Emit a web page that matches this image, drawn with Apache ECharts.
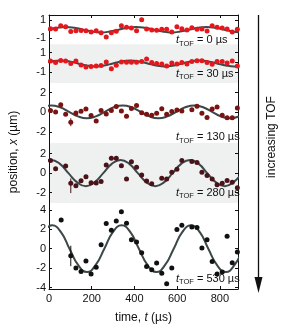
<!DOCTYPE html>
<html><head><meta charset="utf-8">
<script src="https://cdn.jsdelivr.net/npm/echarts@6/dist/echarts.min.js"></script>
<style>html,body{margin:0;padding:0;background:#fff}#c{width:284px;height:325px}</style>
</head><body><div id="c"></div>
<script>
// ---- data ----
const tofLabels = ['0', '30', '130', '280', '530'];
const xTicks = [0, 200, 400, 600, 800];

const t1 = [7,31,55,78,102,126,150,173,197,221,244,268,292,315,339,363,386,410,434,457,481,504,528,551,575,599,622,646,669,693,716,740,764,787,811,834,858,882];
const x1 = [0.05,0.03,0.37,0.27,-0.25,-0.17,-0.15,-0.17,-0.3,-0.17,-0.4,-0.85,-0.4,-0.23,0.37,0.22,0.12,-0.17,1.03,0.03,-0.1,-0.12,0.0,0.0,-0.3,0.27,0.05,-0.1,0.15,0.0,0.03,-0.2,0.37,0.22,0.12,0.03,-0.3,0.0];
const t2 = t1;
const x2 = [0.15,0.0,0.2,0.15,-0.1,0.15,-0.25,-0.45,-0.42,-0.35,-0.3,0.05,-0.65,-0.28,0.05,0.03,0.03,0.03,0.1,0.35,0.0,-0.1,-0.15,-0.35,-0.05,-0.15,0.0,-0.15,0.1,0.17,0.17,0.0,-0.17,0.1,0.1,-0.05,0.15,-0.35];
const t3 = [7,31,55,78,102,126,150,173,197,221,244,268,292,315,339,363,386,410,434,457,481,504,528,551,575,599,622,669,693,716,740,764,787,811,834,858,882];
const x3 = [0.2,0.03,0.78,-0.2,-1.0,-0.07,0.1,0.33,-0.33,-0.88,0.2,-0.17,0.2,0.6,0.13,-0.4,0.4,0.7,-0.05,-0.2,-0.3,-0.1,0.37,-0.2,0.08,0.23,0.13,0.27,0.62,-0.1,-0.53,0.33,0.53,-0.3,-0.55,-0.55,0.45];
const t4 = [7,31,78,102,126,150,173,197,221,244,268,292,315,339,363,386,410,434,457,481,528,551,575,599,622,669,693,716,740,764,787,811,834,858,882];
const x4 = [1.3,0.45,0.73,-1.05,-1.3,-0.77,-0.38,-1.0,-1.02,-0.85,0.85,1.52,1.52,0.77,-0.6,1.18,0.6,-0.18,-0.8,-1.1,-0.52,-0.6,0.1,0.4,1.3,1.2,1.1,0.1,-0.24,-0.6,-1.2,-1.03,-0.76,-0.93,-1.5];
const t5 = [57,102,126,150,173,197,221,244,268,292,315,339,363,386,410,434,457,481,504,528,551,575,599,622,669,693,716,740,764,787,811,834,858,882];
const x5 = [2.95,-0.72,-2.0,-2.35,-1.28,-2.6,-1.9,0.41,2.6,1.9,2.86,3.8,2.62,0.93,0.69,-0.41,-1.83,-2.17,-1.48,-2.52,-3.6,-2.0,1.97,2.41,2.24,2.17,0.07,0.93,-1.31,-2.6,-2.41,1.28,-1.45,-0.34];

// error bars: [t, low, high]
const err3 = [[102, -1.4, -0.6]];
const err4 = [[102, -2.05, -0.55]];
const err5 = [[102, -1.8, 0.3]];

// fitted curves
const fitT1 = [-46,-5,37,78,119,161,202,243,284,326,367,408,449,491,532,573,614,656,697,738,779,821,862,903];
const fitX1 = [-0.26,-0.05,0.16,0.25,0.16,-0.05,-0.26,-0.35,-0.26,-0.05,0.16,0.25,0.16,-0.05,-0.26,-0.35,-0.26,-0.05,0.16,0.25,0.16,-0.05,-0.26,-0.35];
const fitT2 = [-26,14,55,96,136,177,218,258,299,340,380,421,462,502,543,584,624,665,706,746,787,828,868,909];
const fitX2 = [-0.1,0.11,0.2,0.11,-0.1,-0.31,-0.4,-0.31,-0.1,0.11,0.2,0.11,-0.1,-0.31,-0.4,-0.31,-0.1,0.11,0.2,0.11,-0.1,-0.31,-0.4,-0.31];
const fitT3 = [-32,10,52,94,136,177,219,261,303,345,387,429,470,512,554,596,638,680,722,764,805,847,889];
const fitX3 = [0.51,0.7,0.51,0.05,-0.41,-0.6,-0.41,0.05,0.51,0.7,0.51,0.05,-0.41,-0.6,-0.41,0.05,0.51,0.7,0.51,0.05,-0.41,-0.6,-0.41];
const fitT4 = [-31,10,51,91,132,173,213,254,294,335,376,416,457,498,538,579,619,660,701,741,782,823,863,904];
const fitX4 = [0.95,1.35,0.95,0,-0.95,-1.35,-0.95,0,0.95,1.35,0.95,0,-0.95,-1.35,-0.95,0,0.95,1.35,0.95,0,-0.95,-1.35,-0.95,0];
const fitT5 = [-26,15,56,96,137,178,218,259,299,340,381,421,462,503,543,584,624,665,706,746,787,828,868,909];
const fitX5 = [1.7,2.4,1.7,0,-1.7,-2.4,-1.7,0,1.7,2.4,1.7,0,-1.7,-2.4,-1.7,0,1.7,2.4,1.7,0,-1.7,-2.4,-1.7,0];

const yTicks1 = [-1, 0, 1];
const yTicks2 = [-1, 0, 1];
const yTicks3 = [-2, 0, 2];
const yTicks4 = [-2, 0, 2];
const yTicks5 = [-4, -2, 0, 2, 4];

// ---- chart ----
const FONT = 'Liberation Sans, Arial, Helvetica, sans-serif';
const INK = '#111';
const GRAY = '#eff1f1';
const FIT = '#3c4747';
const panels = [
  {t: t1, x: x1, ft: fitT1, fx: fitX1, err: [], ticks: yTicks1, min: -1.65, max: 1.55, color: '#e3171c', top: 15, h: 29.3, bg: false},
  {t: t2, x: x2, ft: fitT2, fx: fitX2, err: [], ticks: yTicks2, min: -2.1, max: 1.86, color: '#e3171c', top: 44.3, h: 38.7, bg: true},
  {t: t3, x: x3, ft: fitT3, fx: fitX3, err: err3, ticks: yTicks3, min: -3.1, max: 2.97, color: '#7a1414', top: 83, h: 60, bg: false},
  {t: t4, x: x4, ft: fitT4, fx: fitX4, err: err4, ticks: yTicks4, min: -3.07, max: 3.1, color: '#4a1219', top: 143, h: 60, bg: true},
  {t: t5, x: x5, ft: fitT5, fx: fitX5, err: err5, ticks: yTicks5, min: -4.15, max: 4.7, color: '#111111', top: 203, h: 86.5, bg: false}
];
const labelY = [41, 74.5, 138, 193.5, 279.5];

const grid = [], xAxis = [], yAxis = [], series = [];
const axisLine = {show: true, onZero: false, lineStyle: {color: INK, width: 1}};
panels.forEach((p, i) => {
  grid.push({left: 49, right: 46, top: p.top, height: p.h, show: p.bg, backgroundColor: GRAY, borderWidth: 0});
  const xa = {gridIndex: i, type: 'value', min: 0, max: 885, splitLine: {show: false}};
  if (i === 0) {
    Object.assign(xa, {position: 'top', axisLine, axisTick: {inside: true, length: 3, customValues: xTicks, lineStyle: {color: INK}}, axisLabel: {show: false}});
  } else if (i === 4) {
    Object.assign(xa, {position: 'bottom', axisLine,
      axisTick: {inside: true, length: 3, customValues: xTicks, lineStyle: {color: INK}},
      axisLabel: {customValues: xTicks, color: INK, fontSize: 11, fontFamily: FONT, margin: 4},
      name: '{a|time, }{i|t}{a| (µs)}', nameLocation: 'middle', nameGap: 23,
      nameTextStyle: {rich: {a: {fontSize: 12, fontFamily: FONT, color: INK}, i: {fontSize: 12, fontFamily: FONT, fontStyle: 'italic', color: INK}}}});
  } else {
    xa.show = false;
  }
  xAxis.push(xa);
  yAxis.push({gridIndex: i, type: 'value', position: 'left', min: p.min, max: p.max, splitLine: {show: false}, axisLine,
    axisTick: {inside: true, length: 3, customValues: p.ticks, lineStyle: {color: INK}},
    axisLabel: {customValues: p.ticks, color: INK, fontSize: 11, fontFamily: FONT, margin: 3, lineHeight: 8, hideOverlap: false, showMinLabel: true, showMaxLabel: true}});
  yAxis.push({gridIndex: i, type: 'value', position: 'right', min: p.min, max: p.max, splitLine: {show: false}, axisLine,
    axisTick: {inside: true, length: 3, customValues: p.ticks, lineStyle: {color: INK}},
    axisLabel: {show: false}});
  series.push({type: 'line', xAxisIndex: i, yAxisIndex: 2 * i, data: p.ft.map((t, j) => [t, p.fx[j]]),
    smooth: true, showSymbol: false, clip: true, lineStyle: {color: FIT, width: 2}, z: 2, silent: true});
  if (p.err.length) {
    series.push({type: 'custom', xAxisIndex: i, yAxisIndex: 2 * i, data: p.err, z: 3, silent: true,
      renderItem: (params, api) => {
        const a = api.coord([api.value(0), api.value(1)]);
        const b = api.coord([api.value(0), api.value(2)]);
        return {type: 'line', shape: {x1: a[0], y1: a[1], x2: b[0], y2: b[1]}, style: {stroke: p.color, lineWidth: 1}};
      }});
  }
  series.push({type: 'scatter', xAxisIndex: i, yAxisIndex: 2 * i, data: p.t.map((t, j) => [t, p.x[j]]),
    symbolSize: 5, itemStyle: {color: p.color, opacity: 1}, z: 4, silent: true, clip: false});
});

const rich = {
  i: {fontSize: 11, fontFamily: FONT, fontStyle: 'italic', fill: INK, color: INK, verticalAlign: 'top', lineHeight: 13},
  s: {fontSize: 7.5, fontFamily: FONT, fill: INK, color: INK, verticalAlign: 'bottom', lineHeight: 13, padding: [0, 0, 0, 0]},
  a: {fontSize: 11, fontFamily: FONT, fill: INK, color: INK, verticalAlign: 'top', lineHeight: 13}
};
const graphic = tofLabels.map((v, i) => ({
  type: 'text', x: 176, y: labelY[i], z: 10, silent: true,
  style: {text: '{i|t}{s|TOF}{a| = ' + v + ' µs}', rich, textAlign: 'left', textVerticalAlign: 'middle'}
}));
graphic.push({type: 'text', x: 14, y: 152, rotation: Math.PI / 2, silent: true,
  style: {text: '{a|position, }{i|x}{a| (µm)}', textAlign: 'center', textVerticalAlign: 'middle',
    rich: {a: {fontSize: 12, fontFamily: FONT, fill: INK, color: INK}, i: {fontSize: 12, fontFamily: FONT, fontStyle: 'italic', fill: INK, color: INK}}}});
graphic.push({type: 'text', x: 272, y: 137, rotation: Math.PI / 2, silent: true,
  style: {text: 'increasing TOF', fontSize: 12, fontFamily: FONT, fill: INK, textAlign: 'center', textVerticalAlign: 'middle'}});
graphic.push({type: 'line', silent: true, shape: {x1: 258.5, y1: 15, x2: 258.5, y2: 282}, style: {stroke: INK, lineWidth: 1.3}});
graphic.push({type: 'polygon', silent: true, shape: {points: [[254.5, 277], [262.5, 277], [258.5, 293]]}, style: {fill: INK}});

const chart = echarts.init(document.getElementById('c'), null, {renderer: 'canvas'});
chart.setOption({animation: false, backgroundColor: '#fff', grid, xAxis, yAxis, series, graphic});
</script></body></html>
